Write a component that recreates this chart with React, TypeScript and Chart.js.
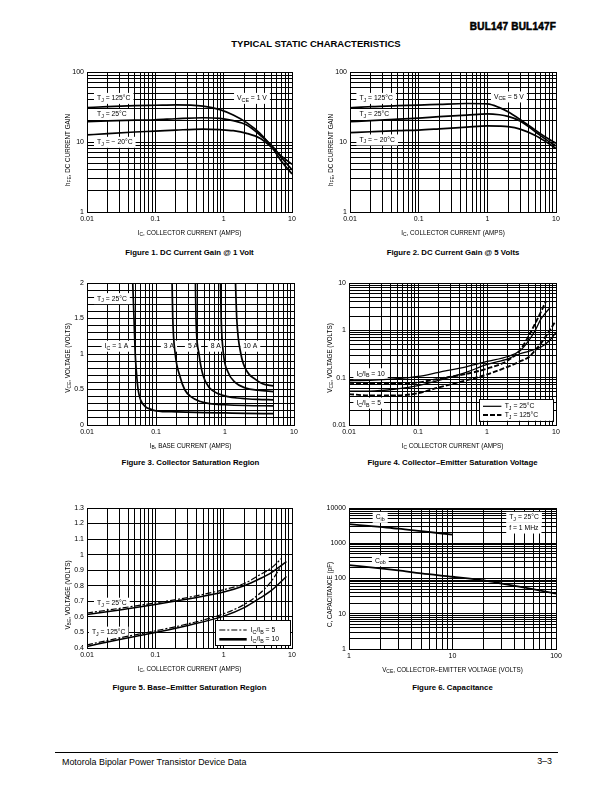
import React, { useEffect, useRef } from 'react';
import { Chart, registerables } from 'chart.js';

Chart.register(...registerables);

const FONT = 'Arial, "Liberation Sans", Helvetica, sans-serif';

// ---------- Figure 1: DC Current Gain @ 1 Volt ----------
const F1_IC = [0.01, 0.02, 0.05, 0.1, 0.2, 0.5, 0.88, 1.38, 2.17, 3.4, 5.33, 7, 10];
const F1_HFE_125 = [31, 32, 33, 33.5, 34, 32.5, 29, 24.3, 18.9, 13.3, 7.9, 5.3, 3.5];
const F1_HFE_25 = [19.5, 20, 20.5, 20.8, 21.5, 22.2, 21.8, 20.2, 17.5, 12.6, 8.4, 6, 4.0];
const F1_HFE_M20 = [12.6, 13.2, 13.9, 14.3, 14.8, 15.3, 15, 14.5, 13.3, 11.3, 8, 6.3, 4.8];

// ---------- Figure 2: DC Current Gain @ 5 Volts ----------
const F2_IC = [0.01, 0.02, 0.05, 0.1, 0.2, 0.5, 1, 1.5, 2, 3, 5, 7, 10];
const F2_HFE_125 = [30.8, 32, 33, 33.6, 34.5, 35.5, 35, 31, 27, 21, 14.8, 11.8, 9.6];
const F2_HFE_25 = [19.5, 20.2, 21.2, 22, 23, 24.2, 25.3, 24.5, 23.2, 20, 14, 11, 8.8];
const F2_HFE_M20 = [13.6, 14, 14.5, 14.8, 15.4, 16.3, 17, 16.9, 16.6, 15.3, 12.4, 10.2, 8.1];

// ---------- Figure 3: Collector Saturation Region ----------
const F3_IB_1A = [0.046, 0.048, 0.05, 0.052, 0.055, 0.06, 0.07, 0.085, 0.1, 0.2, 0.5, 1, 2, 5];
const F3_VCE_1A = [2, 1.5, 1.0, 0.75, 0.5, 0.35, 0.26, 0.22, 0.2, 0.185, 0.175, 0.17, 0.165, 0.16];
const F3_IB_3A = [0.171, 0.175, 0.19, 0.22, 0.26, 0.32, 0.44, 0.6, 1, 2, 5];
const F3_VCE_3A = [2, 1.5, 1.0, 0.7, 0.5, 0.4, 0.33, 0.3, 0.285, 0.275, 0.27];
const F3_IB_5A = [0.373, 0.38, 0.42, 0.48, 0.6, 0.8, 1.1, 1.5, 2, 3, 5];
const F3_VCE_5A = [2, 1.5, 1.0, 0.7, 0.52, 0.44, 0.4, 0.38, 0.37, 0.36, 0.355];
const F3_IB_8A = [0.86, 0.88, 0.95, 1.1, 1.4, 2, 3, 5];
const F3_VCE_8A = [2, 1.5, 1.0, 0.75, 0.6, 0.52, 0.49, 0.47];
const F3_IB_10A = [1.42, 1.48, 1.7, 2.1, 2.7, 3.5, 5];
const F3_VCE_10A = [2, 1.5, 1.0, 0.75, 0.65, 0.58, 0.55];

// ---------- Figure 4: Collector-Emitter Saturation Voltage ----------
const F4_IC_25_R10 = [0.01, 0.02, 0.05, 0.1, 0.2, 0.5, 1, 2, 3, 4, 5, 6, 7, 8.2];
const F4_V_25_R10 = [0.087, 0.088, 0.095, 0.106, 0.13, 0.17, 0.22, 0.28, 0.37, 0.6, 1.0, 1.7, 2.3, 3.0];
const F4_IC_125_R10 = [0.01, 0.02, 0.05, 0.1, 0.2, 0.5, 1, 2, 3, 4, 5, 6, 7.2];
const F4_V_125_R10 = [0.078, 0.075, 0.074, 0.079, 0.095, 0.12, 0.155, 0.23, 0.38, 0.75, 1.4, 2.4, 4.2];
const F4_IC_25_R5 = [0.01, 0.02, 0.05, 0.1, 0.2, 0.5, 1, 2, 3, 4, 6, 8, 10];
const F4_V_25_R5 = [0.052, 0.052, 0.058, 0.068, 0.088, 0.13, 0.19, 0.25, 0.32, 0.36, 0.44, 0.6, 0.9];
const F4_IC_125_R5 = [0.01, 0.02, 0.05, 0.1, 0.2, 0.5, 1, 2, 3, 4, 5, 6, 7, 9.6];
const F4_V_125_R5 = [0.045, 0.042, 0.042, 0.047, 0.062, 0.088, 0.117, 0.17, 0.22, 0.27, 0.38, 0.52, 0.72, 1.46];

// ---------- Figure 5: Base-Emitter Saturation Region ----------
const F5_IC_R10 = [0.01, 0.03, 0.1, 0.3, 1, 2, 3.37, 5, 8.3];
const F5_IC_R5 = [0.01, 0.03, 0.1, 0.3, 1, 2, 3.37, 5, 7];
const F5_V_25_R10 = [0.615, 0.645, 0.68, 0.715, 0.76, 0.8, 0.845, 0.885, 0.955];
const F5_V_25_R5 = [0.625, 0.655, 0.69, 0.725, 0.775, 0.815, 0.87, 0.915, 0.975];
const F5_V_125_R10 = [0.41, 0.455, 0.5, 0.545, 0.605, 0.66, 0.72, 0.77, 0.86];
const F5_V_125_R5 = [0.42, 0.465, 0.51, 0.555, 0.62, 0.68, 0.75, 0.83, 0.93];

// ---------- Figure 6: Capacitance ----------
const F6_VCE_CIB = [1, 2, 3, 5, 10];
const F6_CIB = [3500, 2900, 2600, 2200, 1750];
const F6_VCE_COB = [1, 2, 3, 5, 10, 20, 30, 50, 100];
const F6_COB = [240, 195, 170, 140, 112, 88, 72, 55, 37];

// ---------- tick labels ----------
const LABELS_001_10 = [0.01, 0.1, 1, 10];
const LABELS_1_100 = [1, 10, 100];
const LABELS_F3_Y = [0, 0.5, 1, 1.5, 2];
const LABELS_F5_Y = [0.4, 0.5, 0.6, 0.7, 0.8, 0.9, 1, 1.1, 1.2, 1.3];
const LABELS_F6_Y = [1, 10, 100, 1000, 10000];

const TICK_SIZE = 7;
const TITLE_SIZE = 6.3;
const LABEL_SIZE = 6.8;
const ML = 32, MT = 8, MR = 12, MB = 30;

function logTicks(min: number, max: number) {
  const t: number[] = [];
  for (let e = Math.round(Math.log10(min)); e < Math.round(Math.log10(max)); e++) {
    for (let m = 1; m < 10; m++) t.push(+(m * Math.pow(10, e)).toPrecision(6));
  }
  t.push(max);
  return t;
}
function linTicks(min: number, max: number, step: number) {
  const t: number[] = [];
  const n = Math.round((max - min) / step);
  for (let i = 0; i <= n; i++) t.push(+(min + i * step).toFixed(6));
  return t;
}

type Seg = { t: string; sub: boolean };
function parseRich(s: string): Seg[] {
  const out: Seg[] = [];
  const re = /_\{([^}]*)\}/g;
  let last = 0;
  let m: RegExpExecArray | null;
  while ((m = re.exec(s))) {
    if (m.index > last) out.push({ t: s.slice(last, m.index), sub: false });
    out.push({ t: m[1], sub: true });
    last = re.lastIndex;
  }
  if (last < s.length) out.push({ t: s.slice(last), sub: false });
  return out;
}
function fontFor(size: number, sub: boolean) {
  return `${sub ? size * 0.78 : size}px ${FONT}`;
}
function measureRich(ctx: CanvasRenderingContext2D, s: string, size: number) {
  let w = 0;
  for (const g of parseRich(s)) {
    ctx.font = fontFor(size, g.sub);
    w += ctx.measureText(g.t).width;
  }
  return w;
}
function drawRich(ctx: CanvasRenderingContext2D, s: string, x: number, y: number, size: number, align: string) {
  const w = measureRich(ctx, s, size);
  let cx = align === 'left' ? x : align === 'center' ? x - w / 2 : x - w;
  ctx.textBaseline = 'middle';
  ctx.textAlign = 'left';
  for (const g of parseRich(s)) {
    ctx.font = fontFor(size, g.sub);
    ctx.fillText(g.t, cx, g.sub ? y + size * 0.3 : y);
    cx += ctx.measureText(g.t).width;
  }
  return w;
}

interface AxisSpec { type: string; min: number; max: number; ticks: number[]; labels: number[] }
interface SeriesSpec { xs: number[]; ys: number[]; width: number; dash?: number[] }
interface LabelSpec { text: string; x: number; y: number }
interface LegendRow { text: string; width: number; dash?: number[]; dy: number }
interface LegendSpec { right: number; bottom: number; w: number; h: number; lx0: number; lx1: number; tx: number; rows: LegendRow[] }
interface Spec {
  rect: number[];
  x: AxisSpec; y: AxisSpec;
  series: SeriesSpec[];
  labels: LabelSpec[];
  legend?: LegendSpec;
  xTitle: string; yTitle: string; yTitleShift: number;
}

const LOGX_001_10: AxisSpec = { type: 'logarithmic', min: 0.01, max: 10, ticks: logTicks(0.01, 10), labels: LABELS_001_10 };

const SOLID = 1.7;

const SPECS: Spec[] = [
  {
    rect: [87, 72, 205, 140],
    x: LOGX_001_10,
    y: { type: 'logarithmic', min: 1, max: 100, ticks: logTicks(1, 100), labels: LABELS_1_100 },
    series: [
      { xs: F1_IC, ys: F1_HFE_125, width: SOLID },
      { xs: F1_IC, ys: F1_HFE_25, width: SOLID },
      { xs: F1_IC, ys: F1_HFE_M20, width: SOLID },
    ],
    labels: [
      { text: 'T_{J} = 125°C', x: 0.014, y: 42 },
      { text: 'T_{J} = 25°C', x: 0.014, y: 24.7 },
      { text: 'T_{J} = − 20°C', x: 0.014, y: 9.9 },
      { text: 'V_{CE} = 1 V', x: 1.57, y: 42 },
    ],
    xTitle: 'I_{C}, COLLECTOR CURRENT (AMPS)',
    yTitle: 'h_{FE}, DC CURRENT GAIN',
    yTitleShift: 8,
  },
  {
    rect: [350, 72, 206, 140],
    x: LOGX_001_10,
    y: { type: 'logarithmic', min: 1, max: 100, ticks: logTicks(1, 100), labels: LABELS_1_100 },
    series: [
      { xs: F2_IC, ys: F2_HFE_125, width: SOLID },
      { xs: F2_IC, ys: F2_HFE_25, width: SOLID },
      { xs: F2_IC, ys: F2_HFE_M20, width: SOLID },
    ],
    labels: [
      { text: 'T_{J} = 125°C', x: 0.0137, y: 42 },
      { text: 'T_{J} = 25°C', x: 0.0137, y: 24.7 },
      { text: 'T_{J} = − 20°C', x: 0.0137, y: 10.7 },
      { text: 'V_{CE} = 5 V', x: 1.25, y: 44 },
    ],
    xTitle: 'I_{C}, COLLECTOR CURRENT (AMPS)',
    yTitle: 'h_{FE}, DC CURRENT GAIN',
    yTitleShift: 8,
  },
  {
    rect: [87, 283, 207, 142],
    x: LOGX_001_10,
    y: { type: 'linear', min: 0, max: 2, ticks: linTicks(0, 2, 0.1), labels: LABELS_F3_Y },
    series: [
      { xs: F3_IB_1A, ys: F3_VCE_1A, width: SOLID },
      { xs: F3_IB_3A, ys: F3_VCE_3A, width: SOLID },
      { xs: F3_IB_5A, ys: F3_VCE_5A, width: SOLID },
      { xs: F3_IB_8A, ys: F3_VCE_8A, width: SOLID },
      { xs: F3_IB_10A, ys: F3_VCE_10A, width: SOLID },
    ],
    labels: [
      { text: 'T_{J} = 25°C', x: 0.014, y: 1.78 },
      { text: 'I_{C} = 1 A', x: 0.018, y: 1.11 },
      { text: '3 A', x: 0.13, y: 1.11 },
      { text: '5 A', x: 0.29, y: 1.11 },
      { text: '8 A', x: 0.62, y: 1.11 },
      { text: '10 A', x: 1.84, y: 1.11 },
    ],
    xTitle: 'I_{B}, BASE CURRENT (AMPS)',
    yTitle: 'V_{CE}, VOLTAGE (VOLTS)',
    yTitleShift: 4,
  },
  {
    rect: [349, 283, 207, 142],
    x: LOGX_001_10,
    y: { type: 'logarithmic', min: 0.01, max: 10, ticks: logTicks(0.01, 10), labels: LABELS_001_10 },
    series: [
      { xs: F4_IC_25_R10, ys: F4_V_25_R10, width: 1.3 },
      { xs: F4_IC_125_R10, ys: F4_V_125_R10, width: 1.9, dash: [5, 2] },
      { xs: F4_IC_25_R5, ys: F4_V_25_R5, width: 1.3 },
      { xs: F4_IC_125_R5, ys: F4_V_125_R5, width: 1.9, dash: [5, 2] },
    ],
    labels: [
      { text: 'I_{C}/I_{B} = 10', x: 0.0128, y: 0.121 },
      { text: 'I_{C}/I_{B} = 5', x: 0.0128, y: 0.029 },
    ],
    legend: {
      right: 2.7, bottom: 4, w: 74, h: 21.7, lx0: 4, lx1: 22.4, tx: 25.7,
      rows: [
        { text: 'T_{J} = 25°C', width: 1.2, dy: 7.3 },
        { text: 'T_{J} = 125°C', width: 2.2, dash: [5, 2], dy: 16 },
      ],
    },
    xTitle: 'I_{C} COLLECTOR CURRENT (AMPS)',
    yTitle: 'V_{CE}, VOLTAGE (VOLTS)',
    yTitleShift: 4,
  },
  {
    rect: [87, 508, 205, 140],
    x: LOGX_001_10,
    y: { type: 'linear', min: 0.4, max: 1.3, ticks: linTicks(0.4, 1.3, 0.1), labels: LABELS_F5_Y },
    series: [
      { xs: F5_IC_R10, ys: F5_V_25_R10, width: 1.5 },
      { xs: F5_IC_R5, ys: F5_V_25_R5, width: 1.2, dash: [6, 2, 2, 2] },
      { xs: F5_IC_R10, ys: F5_V_125_R10, width: 1.5 },
      { xs: F5_IC_R5, ys: F5_V_125_R5, width: 1.2, dash: [6, 2, 2, 2] },
    ],
    labels: [
      { text: 'T_{J} = 25°C', x: 0.014, y: 0.688 },
      { text: 'T_{J} = 125°C', x: 0.0118, y: 0.502 },
    ],
    legend: {
      right: 2.3, bottom: 3.3, w: 75, h: 25, lx0: 4.3, lx1: 31.7, tx: 35.7,
      rows: [
        { text: 'I_{C}/I_{B} = 5', width: 1.2, dash: [6, 2, 2, 2], dy: 10 },
        { text: 'I_{C}/I_{B} = 10', width: 2.6, dy: 19.3 },
      ],
    },
    xTitle: 'I_{C}, COLLECTOR CURRENT (AMPS)',
    yTitle: 'V_{BE}, VOLTAGE (VOLTS)',
    yTitleShift: 17,
  },
  {
    rect: [349, 508, 207, 141],
    x: { type: 'logarithmic', min: 1, max: 100, ticks: logTicks(1, 100), labels: LABELS_1_100 },
    y: { type: 'logarithmic', min: 1, max: 10000, ticks: logTicks(1, 10000), labels: LABELS_F6_Y },
    series: [
      { xs: F6_VCE_CIB, ys: F6_CIB, width: 1.8 },
      { xs: F6_VCE_COB, ys: F6_COB, width: 1.8 },
    ],
    labels: [
      { text: 'C_{ib}', x: 1.81, y: 5430 },
      { text: 'C_{ob}', x: 1.78, y: 318 },
      { text: 'T_{J} = 25°C', x: 35.3, y: 5430 },
      { text: 'f = 1 MHz', x: 35.3, y: 2700 },
    ],
    xTitle: 'V_{CE}, COLLECTOR–EMITTER VOLTAGE (VOLTS)',
    yTitle: 'C, CAPACITANCE (pF)',
    yTitleShift: 16,
  },
];

function isLabel(list: number[], v: number) {
  return list.some((l) => Math.abs(l - v) <= 1e-9 * Math.max(1, Math.abs(l)));
}

function axisOptions(ax: AxisSpec, isX: boolean) {
  return {
    type: ax.type,
    min: ax.min,
    max: ax.max,
    afterBuildTicks: (s: any) => {
      s.ticks = ax.ticks.map((v) => ({ value: v }));
    },
    afterFit: (s: any) => {
      if (isX) s.height = MB;
      else s.width = ML;
    },
    ticks: {
      autoSkip: false,
      maxRotation: 0,
      minRotation: 0,
      padding: 3,
      color: '#000',
      font: { family: FONT, size: TICK_SIZE },
      callback: (v: any) => (isLabel(ax.labels, Number(v)) ? String(Number(v)) : ''),
    },
    grid: { color: '#000', lineWidth: 1, drawTicks: false },
    border: { display: true, color: '#000', width: 1 },
  };
}

function makePlugin(spec: Spec) {
  return {
    id: 'sheetText',
    beforeDatasetsDraw(chart: any) {
      const ctx: CanvasRenderingContext2D = chart.ctx;
      const xs = chart.scales.x;
      const ys = chart.scales.y;
      const a = chart.chartArea;
      ctx.save();
      for (const lb of spec.labels) {
        const px = xs.getPixelForValue(lb.x);
        const py = ys.getPixelForValue(lb.y);
        const w = measureRich(ctx, lb.text, LABEL_SIZE);
        ctx.fillStyle = '#fff';
        ctx.fillRect(px - 3, py - 5.5, w + 6, 11);
        ctx.fillStyle = '#000';
        drawRich(ctx, lb.text, px, py, LABEL_SIZE, 'left');
      }
      const g = spec.legend;
      if (g) {
        const bx = Math.round(a.right - g.right - g.w);
        const by = Math.round(a.bottom - g.bottom - g.h);
        ctx.fillStyle = '#fff';
        ctx.fillRect(bx, by, g.w, g.h);
        ctx.strokeStyle = '#000';
        ctx.lineWidth = 1;
        ctx.setLineDash([]);
        ctx.strokeRect(bx + 0.5, by + 0.5, Math.round(g.w), Math.round(g.h));
        for (const r of g.rows) {
          ctx.beginPath();
          ctx.lineWidth = r.width;
          ctx.setLineDash(r.dash || []);
          ctx.moveTo(bx + g.lx0, by + r.dy);
          ctx.lineTo(bx + g.lx1, by + r.dy);
          ctx.stroke();
          ctx.setLineDash([]);
          ctx.fillStyle = '#000';
          drawRich(ctx, r.text, bx + g.tx, by + r.dy, LABEL_SIZE, 'left');
        }
      }
      ctx.restore();
    },
    afterDraw(chart: any) {
      const ctx: CanvasRenderingContext2D = chart.ctx;
      const a = chart.chartArea;
      ctx.save();
      ctx.fillStyle = '#000';
      drawRich(ctx, spec.xTitle, (a.left + a.right) / 2, a.bottom + 21, TITLE_SIZE, 'center');
      ctx.translate(a.left - 19, (a.top + a.bottom) / 2 + spec.yTitleShift);
      ctx.rotate(-Math.PI / 2);
      drawRich(ctx, spec.yTitle, 0, 0, TITLE_SIZE, 'center');
      ctx.restore();
    },
  };
}

function buildConfig(spec: Spec): any {
  return {
    type: 'scatter',
    data: {
      datasets: spec.series.map((s) => ({
        data: s.xs.map((x, i) => ({ x, y: s.ys[i] })),
        showLine: true,
        borderColor: '#000',
        backgroundColor: '#000',
        borderWidth: s.width,
        borderDash: s.dash || [],
        pointRadius: 0,
        pointHoverRadius: 0,
        cubicInterpolationMode: 'monotone',
        fill: false,
      })),
    },
    options: {
      responsive: false,
      animation: false,
      events: [],
      layout: { padding: { left: 0, top: MT, right: MR, bottom: 0 }, autoPadding: false },
      plugins: { legend: { display: false }, tooltip: { enabled: false }, title: { display: false } },
      scales: { x: axisOptions(spec.x, true), y: axisOptions(spec.y, false) },
    },
    plugins: [makePlugin(spec)],
  };
}

function ChartBox({ spec }: { spec: Spec }) {
  const ref = useRef<HTMLCanvasElement | null>(null);
  useEffect(() => {
    if (!ref.current) return;
    const chart = new Chart(ref.current, buildConfig(spec));
    return () => chart.destroy();
  }, [spec]);
  const [L, T, W, H] = spec.rect;
  const cw = W + ML + MR;
  const ch = H + MT + MB;
  return (
    <canvas
      ref={ref}
      width={cw}
      height={ch}
      style={{ position: 'absolute', left: L - ML, top: T - MT, width: cw, height: ch }}
    />
  );
}

function Txt(props: { x: number; y: number; size: number; bold?: boolean; align?: string; children: any; extra?: any }) {
  const { x, y, size, bold, align = 'left', children, extra } = props;
  const tx = align === 'left' ? '0' : align === 'center' ? '-50%' : '-100%';
  return (
    <div
      style={{
        position: 'absolute',
        left: x,
        top: y,
        transform: `translate(${tx}, -50%)`,
        fontSize: size,
        fontWeight: bold ? 700 : 400,
        lineHeight: 1,
        whiteSpace: 'nowrap',
        color: '#000',
        fontFamily: FONT,
        ...(extra || {}),
      }}
    >
      {children}
    </div>
  );
}

const CAPTIONS = [
  { text: 'Figure 1. DC Current Gain @ 1 Volt', x: 189.5, y: 253 },
  { text: 'Figure 2. DC Current Gain @ 5 Volts', x: 453, y: 253 },
  { text: 'Figure 3. Collector Saturation Region', x: 190.5, y: 463 },
  { text: 'Figure 4. Collector–Emitter Saturation Voltage', x: 452.5, y: 463 },
  { text: 'Figure 5. Base–Emitter Saturation Region', x: 189.5, y: 688 },
  { text: 'Figure 6. Capacitance', x: 452.5, y: 688 },
];

export default function App() {
  return (
    <div style={{ position: 'absolute', left: 0, top: 0, width: 612, height: 792, background: '#fff', overflow: 'hidden' }}>
      <Txt x={556} y={27} size={10} bold align="right" extra={{ WebkitTextStroke: '0.5px #000', letterSpacing: '0.2px' }}>
        BUL147 BUL147F
      </Txt>
      <Txt x={316} y={44} size={9.5} bold align="center">
        TYPICAL STATIC CHARACTERISTICS
      </Txt>
      {SPECS.map((s, i) => (
        <ChartBox key={i} spec={s} />
      ))}
      {CAPTIONS.map((c, i) => (
        <Txt key={i} x={c.x} y={c.y} size={7.8} bold align="center">
          {c.text}
        </Txt>
      ))}
      <div style={{ position: 'absolute', left: 55, top: 752, width: 503, height: 0, borderTop: '1px solid #000' }} />
      <Txt x={62} y={762} size={8.9}>
        Motorola Bipolar Power Transistor Device Data
      </Txt>
      <Txt x={552} y={761} size={8.9} align="right">
        3–3
      </Txt>
    </div>
  );
}
